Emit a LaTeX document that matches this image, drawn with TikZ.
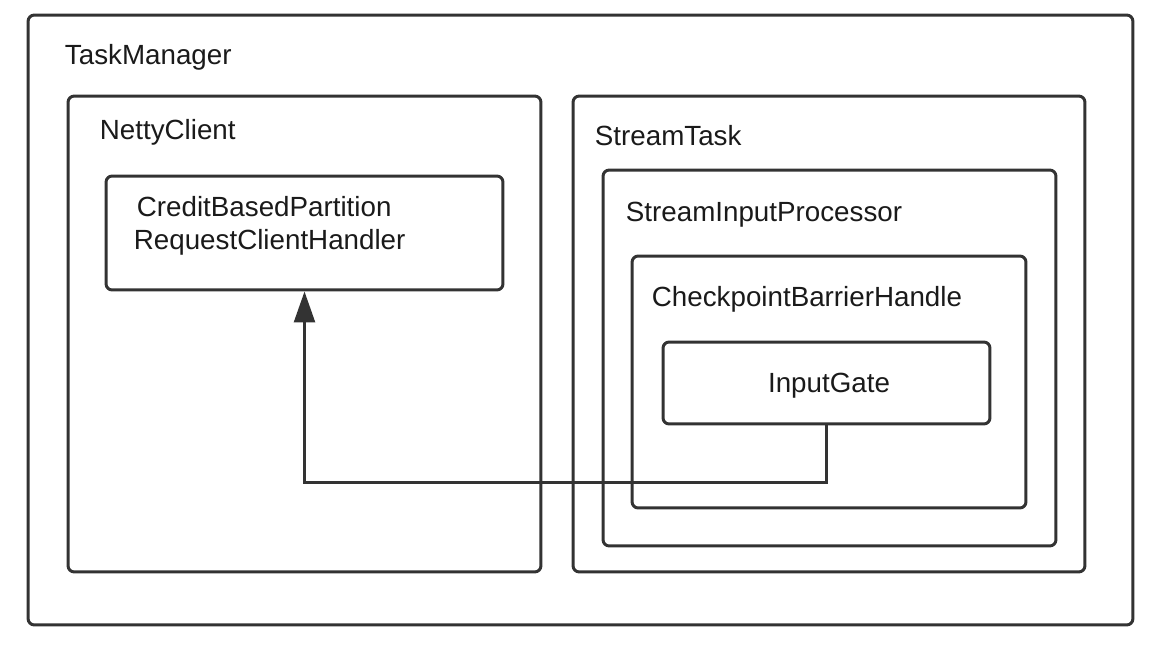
\documentclass[tikz,border=0pt]{standalone}
\usepackage{fontspec}
\setmainfont{Liberation Sans}
\usetikzlibrary{arrows.meta}
\definecolor{linegray}{HTML}{333333}
\definecolor{textgray}{HTML}{1A1A1A}
\begin{document}
\begin{tikzpicture}
[x=0.02cm,y=-0.02cm,
  boxdecorate/.style={draw=linegray,line width=1.7pt,rounded corners=3.5pt,inner sep=0pt},%
  labeldecorate/.style={anchor=base west,inner sep=0pt,text=textgray,font=\fontsize{15.8}{19}\selectfont},%
  arrowdecorate/.style={draw=linegray,line width=1.5pt,-{Triangle[length=0.62cm,width=0.42cm]}}]
\useasboundingbox (0,0) rectangle (1164,652);
% boxes
\node (tm) at (580.5,320) [boxdecorate,minimum width=22.1cm,minimum height=12.2cm] {};
\node (nc) at (304.5,334) [boxdecorate,minimum width=9.46cm,minimum height=9.52cm] {};
\node (hd) at (304.5,233) [boxdecorate,minimum width=7.94cm,minimum height=2.28cm] {};
\node (st) at (829,334) [boxdecorate,minimum width=10.24cm,minimum height=9.52cm] {};
\node (sip) at (829.5,358) [boxdecorate,minimum width=9.06cm,minimum height=7.52cm] {};
\node (cbh) at (829,382) [boxdecorate,minimum width=7.88cm,minimum height=5.04cm] {};
\node (ig) at (826.5,383) [boxdecorate,minimum width=6.54cm,minimum height=1.64cm] {};
% labels
\node (tmlabel) [labeldecorate] at ([shift={(38,51)}]tm.north west) {TaskManager};
\node (nclabel) [labeldecorate] at ([shift={(33,45)}]nc.north west) {NettyClient};
\node (hdlabel1) [labeldecorate] at ([shift={(32,42)}]hd.north west) {CreditBasedPartition};
\node (hdlabel2) [labeldecorate] at ([shift={(29,75)}]hd.north west) {RequestClientHandler};
\node (stlabel) [labeldecorate] at ([shift={(23,51)}]st.north west) {StreamTask};
\node (siplabel) [labeldecorate] at ([shift={(24,53)}]sip.north west) {StreamInputProcessor};
\node (cbhlabel) [labeldecorate] at ([shift={(21,52)}]cbh.north west) {CheckpointBarrierHandle};
\node (iglabel) [labeldecorate,anchor=base] at ([shift={(2.5,9)}]ig.center) {InputGate};
% arrow
\draw[arrowdecorate] (ig.south) -- ++(0,57) -| (hd.south);
\end{tikzpicture}
\end{document}
